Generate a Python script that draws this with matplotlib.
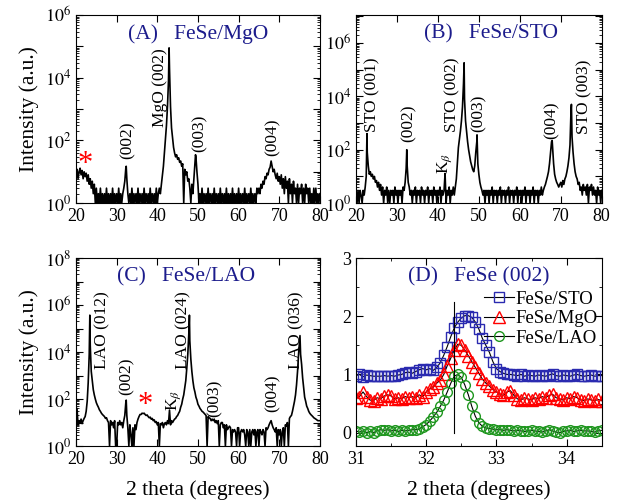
import numpy as np
import matplotlib
matplotlib.use("Agg")
import matplotlib.pyplot as plt
from matplotlib.ticker import LogLocator, FuncFormatter, MultipleLocator, NullFormatter
from matplotlib.lines import Line2D

plt.rcParams['font.family'] = ['Liberation Serif', 'DejaVu Serif']
plt.rcParams['mathtext.fontset'] = 'stix'

navy = '#1c1c8c'

# scan grid for panels A-C: 20..80 deg, 0.25 deg step
scan_x = np.arange(20.0, 80.01, 0.25)

# --- panel A: FeSe/MgO counts, one row per degree (x.00 .25 .50 .75) ---
a_counts = [8, 12, 6, 10,   13, 8, 11, 6,   10, 7, 9, 5,   8, 4, 6, 3,   5, 2, 4, 1,     # 20-24
            3, 1, 2, 1,   3, 1, 2, 1,   2, 1, 3, 1,   2, 1, 2, 1,   3, 1, 2, 1,          # 25-29
            2, 1, 3, 1,   2, 1, 2, 3,   5, 13, 6, 2,   1, 2, 1, 3,   1, 2, 1, 2,         # 30-34
            1, 3, 1, 2,   1, 2, 1, 3,   1, 2, 1, 2,   1, 3, 1, 2,   1, 2, 1, 3,          # 35-39
            1, 2, 3, 2,   4, 8, 15, 40,   110, 300, 1200, 8000,   20000, 1200, 250, 120,
            60, 40, 30, 35,                                                             # 40-44
            25, 28, 20, 22,   15, 18, 1, 12,   8, 10, 5, 6,   3, 1, 4, 2,   6, 20, 30, 10,  # 45-49
            4, 1, 2, 1,   3, 1, 2, 1,   2, 1, 3, 1,   2, 1, 2, 1,   3, 1, 2, 1,          # 50-54
            2, 1, 3, 1,   2, 1, 2, 1,   3, 1, 2, 1,   2, 1, 3, 1,   2, 1, 2, 1,          # 55-59
            3, 1, 2, 1,   2, 1, 3, 1,   2, 1, 2, 1,   3, 1, 2, 1,   2, 1, 3, 2,          # 60-64
            3, 2, 4, 3,   5, 4, 7, 6,   9, 8, 12, 14,   22, 15, 10, 12,   8, 6, 9, 5,    # 65-69
            7, 4, 8, 3,   6, 2, 7, 3,   5, 1, 6, 2,   4, 1, 5, 2,   3, 1, 4, 1,          # 70-74
            3, 2, 4, 1,   3, 1, 4, 2,   3, 1, 3, 1,   2, 1, 3, 1,   3, 1, 2, 1,          # 75-79
            2]
a_peak_x = [32.35, 42.9, 49.4]
a_peak_y = [15, 90000, 35]

# --- panel B: FeSe/STO ---
b_counts = [2, 1, 3, 1,   3, 2, 1, 3,   2, 4, 10, 80,   25, 12, 15, 10,   12, 8, 10, 6,   # 20-24
            7, 4, 6, 3,   5, 2, 4, 1,   3, 2, 4, 1,   3, 1, 3, 2,   3, 1, 4, 2,          # 25-29
            3, 1, 3, 2,   3, 1, 4, 3,   6, 20, 25, 6,   4, 2, 3, 1,   3, 2, 4, 1,        # 30-34
            3, 2, 3, 1,   4, 2, 3, 1,   3, 2, 4, 1,   3, 2, 3, 1,   4, 2, 3, 1,          # 35-39
            3, 2, 4, 1,   3, 2, 3, 13,   1, 3, 2, 4,   1, 3, 2, 4,   2, 4, 8, 30,        # 40-44
            120, 250, 500, 1200,   4000, 30000, 8000, 1200,   500, 200, 100, 60,
            35, 25, 18, 15,   25, 80, 200, 30,                                          # 45-49
            12, 6, 4, 3,   2, 3, 1, 3,   2, 3, 1, 3,   2, 4, 1, 3,   2, 3, 1, 3,         # 50-54
            2, 4, 1, 3,   2, 3, 1, 3,   2, 4, 1, 3,   2, 3, 1, 3,   2, 4, 1, 3,          # 55-59
            2, 3, 1, 3,   2, 4, 1, 3,   2, 3, 1, 3,   2, 4, 1, 3,   2, 3, 1, 3,          # 60-64
            2, 4, 2, 3,   4, 5, 7, 10,   15, 30, 80, 200,   120, 30, 12, 8,   6, 5, 4, 5, # 65-69
            6, 4, 7, 5,   8, 10, 15, 25,   50, 150, 3000, 300,   80, 30, 15, 10,
            8, 5, 6, 3,                                                                 # 70-74
            4, 2, 5, 3,   4, 2, 5, 1,   4, 3, 5, 2,   4, 2, 3, 1,   4, 2, 3, 1,          # 75-79
            3]
b_peak_x = [22.68, 32.4, 46.4, 49.55, 67.9, 72.6]
b_peak_y = [400, 100, 180000, 360, 220, 5000]

# --- panel C: FeSe/LAO ---
c_counts = [10, 40, 8, 12,   10, 14, 9, 12,   15, 18, 30, 80,   500, 8000, 20000, 1500,
            600, 250, 150, 100,                                                         # 20-24
            70, 55, 45, 35,   30, 25, 22, 20,   18, 15, 16, 12,   10, 1, 12, 8,   10, 6, 12, 1,  # 25-29
            1, 10, 8, 12,   8, 10, 6, 12,   20, 70, 20, 6,   1, 8, 3, 1,   6, 1, 8, 5,   # 30-34
            10, 14, 18, 22,   22, 25, 24, 25,   22, 20, 21, 18,   16, 17, 14, 15,
            12, 13, 10, 11,                                                             # 35-39
            8, 10, 1, 9,   8, 10, 6, 9,   10, 8, 12, 9,   34, 8, 12, 10,   12, 14, 15, 18,  # 40-44
            20, 25, 30, 45,   60, 100, 150, 300,   600, 2000, 8000, 60000,
            30000, 5000, 1500, 600,   300, 200, 120, 90,                                # 45-49
            60, 50, 40, 35,   30, 28, 25, 22,   20, 1, 18, 16,   15, 12, 14, 12,
            14, 10, 12, 9,                                                              # 50-54
            12, 1, 8, 10,   10, 6, 8, 1,   8, 5, 6, 7,   6, 1, 5, 4,   5, 4, 1, 6,       # 55-59
            6, 1, 4, 5,   4, 5, 3, 1,   5, 4, 1, 5,   1, 4, 5, 3,   5, 1, 4, 5,          # 60-64
            1, 5, 4, 3,   5, 4, 1, 6,   5, 6, 8, 10,   12, 8, 6, 5,   4, 6, 1, 5,        # 65-69
            3, 5, 1, 4,   6, 1, 8, 7,   10, 1, 15, 18,   20, 30, 50, 80,
            150, 400, 1500, 8000,                                                       # 70-74
            30000, 8000, 3000, 800,   300, 120, 80, 50,   40, 30, 25, 22,
            20, 18, 16, 15,   14, 13, 12, 12,                                           # 75-79
            12]
c_peak_x = [23.4, 32.35, 47.9, 75.1]
c_peak_y = [370000, 90, 370000, 50000]

# --- panel D: FeSe (002) zoom, offset intensities ---
d_x = [31.00, 31.05, 31.10, 31.15, 31.20, 31.25, 31.30, 31.35, 31.40, 31.45, 31.50, 31.55,
       31.60, 31.65, 31.70, 31.75, 31.80, 31.85, 31.90, 31.95, 32.00, 32.05, 32.10, 32.15,
       32.20, 32.25, 32.30, 32.35, 32.40, 32.45, 32.50, 32.55, 32.60, 32.65, 32.70, 32.75,
       32.80, 32.85, 32.90, 32.95, 33.00, 33.05, 33.10, 33.15, 33.20, 33.25, 33.30, 33.35,
       33.40, 33.45, 33.50, 33.55, 33.60, 33.65, 33.70, 33.75, 33.80, 33.85, 33.90, 33.95,
       34.00, 34.05, 34.10, 34.15, 34.20, 34.25, 34.30, 34.35, 34.40, 34.45, 34.50]
sto = [0.98, 1.00, 0.96, 0.99, 0.98, 0.97, 0.97, 0.97, 0.98, 0.97, 0.98, 0.97,
       0.99, 1.00, 1.03, 1.04, 1.02, 1.05, 1.08, 1.10, 1.08, 1.10, 1.07, 1.12,
       1.20, 1.33, 1.48, 1.65, 1.80, 1.90, 1.97, 2.01, 2.01, 1.98, 1.90, 1.78,
       1.62, 1.50, 1.38, 1.22, 1.10, 1.05, 1.02, 1.00, 1.00, 0.99, 0.98, 1.00,
       0.97, 0.99, 0.98, 0.97, 0.99, 0.98, 0.97, 0.99, 1.01, 0.98, 0.97, 0.99,
       0.98, 0.97, 0.99, 1.00, 0.98, 0.97, 0.98, 0.99, 0.97, 0.98, 0.98]
mgo = [0.60, 0.62, 0.70, 0.62, 0.56, 0.55, 0.60, 0.58, 0.63, 0.65, 0.63, 0.58,
       0.60, 0.58, 0.62, 0.60, 0.62, 0.60, 0.65, 0.62, 0.70, 0.75, 0.78, 0.85,
       0.90, 1.00, 1.15, 1.28, 1.42, 1.52, 1.50, 1.42, 1.32, 1.22, 1.12, 1.02,
       0.92, 0.85, 0.80, 0.74, 0.70, 0.66, 0.64, 0.70, 0.72, 0.64, 0.58, 0.56,
       0.60, 0.58, 0.56, 0.60, 0.58, 0.62, 0.60, 0.64, 0.66, 0.60, 0.58, 0.56,
       0.60, 0.58, 0.62, 0.60, 0.56, 0.55, 0.58, 0.56, 0.55, 0.57, 0.55]
lao = [0.03, 0.01, 0.03, 0.00, 0.02, 0.00, 0.03, 0.05, 0.04, 0.05, 0.03, 0.04,
       0.02, 0.04, 0.03, 0.04, 0.05, 0.05, 0.06, 0.10, 0.14, 0.20, 0.27, 0.35,
       0.45, 0.56, 0.70, 0.85, 0.97, 1.00, 0.95, 0.82, 0.65, 0.45, 0.28, 0.17,
       0.11, 0.08, 0.07, 0.06, 0.05, 0.05, 0.04, 0.05, 0.04, 0.03, 0.04, 0.03,
       0.02, 0.03, 0.04, 0.03, 0.02, 0.01, 0.03, 0.05, 0.03, 0.01, 0.00, 0.02,
       0.03, 0.04, 0.02, 0.03, 0.04, 0.03, 0.03, 0.02, 0.01, 0.03, 0.04]
line_pos = 32.4
d_labels = ['FeSe/STO', 'FeSe/MgO', 'FeSe/LAO']


def merged(counts, px, py):
    # put the extra peak-top points into the scan, sorted by angle
    x = np.concatenate([scan_x, px])
    y = np.concatenate([np.asarray(counts, float), py])
    o = np.argsort(x, kind='stable')
    return x[o], y[o]


def exp_fmt(v, pos):
    e = int(round(np.log10(v)))
    return r'$10^{%d}$' % e if e % 2 == 0 else ''


def style_log(ax, top):
    ax.set_yscale('log')
    ax.set_xlim(20, 80)
    ax.set_ylim(1, top)
    ax.xaxis.set_major_locator(MultipleLocator(10))
    ax.yaxis.set_major_locator(LogLocator(base=10, subs=(1.0,), numticks=20))
    ax.yaxis.set_minor_locator(LogLocator(base=10, subs=np.arange(2, 10), numticks=20))
    ax.yaxis.set_major_formatter(FuncFormatter(exp_fmt))
    ax.yaxis.set_minor_formatter(NullFormatter())


def common_ticks(ax):
    ax.tick_params(which='both', direction='in', top=True, right=True, labelsize=13)
    ax.tick_params(which='major', length=5, width=0.8)
    ax.tick_params(which='minor', length=2.5, width=0.6)


def peak_label(ax, x, y, s):
    ax.text(x, y, s, rotation=90, ha='center', va='center', fontsize=12.5)


def panel_title(ax, xf, s):
    ax.text(xf, 0.9, s, transform=ax.transAxes, ha='center', va='center',
            fontsize=15.5, color=navy)


fig = plt.figure(figsize=(6.19, 5.04), dpi=100)
axA = fig.add_axes([0.1228, 0.597, 0.394, 0.373])
axB = fig.add_axes([0.5751, 0.597, 0.397, 0.373])
axC = fig.add_axes([0.1228, 0.115, 0.394, 0.373])
axD = fig.add_axes([0.5751, 0.115, 0.397, 0.373])

# (A)
x, y = merged(a_counts, a_peak_x, a_peak_y)
axA.plot(x, y, color='black', lw=1.2)
style_log(axA, 1e6)
common_ticks(axA)
panel_title(axA, 0.5, '(A)   FeSe/MgO')
axA.text(22.3, 17, '*', color='red', fontsize=22, ha='center', va='center')
peak_label(axA, 32.6, 1e2, '(002)')
peak_label(axA, 40.6, 10**3.67, 'MgO (002)')
peak_label(axA, 50.5, 10**2.23, '(003)')
peak_label(axA, 68.3, 10**2.1, '(004)')
axA.set_ylabel('Intensity (a.u.)', fontsize=15.5)

# (B)
x, y = merged(b_counts, b_peak_x, b_peak_y)
axB.plot(x, y, color='black', lw=1.2)
style_log(axB, 1.1e7)
common_ticks(axB)
panel_title(axB, 0.55, '(B)   FeSe/STO')
peak_label(axB, 24.1, 10**4.05, 'STO (001)')
peak_label(axB, 32.9, 10**3.0, '(002)')
peak_label(axB, 41.6, 10**1.5, r'K$_{\beta}$')
peak_label(axB, 43.5, 10**4.05, 'STO (002)')
peak_label(axB, 49.9, 10**3.37, '(003)')
peak_label(axB, 67.8, 10**3.1, '(004)')
peak_label(axB, 75.8, 10**4.0, 'STO (003)')

# (C)
x, y = merged(c_counts, c_peak_x, c_peak_y)
axC.plot(x, y, color='black', lw=1.2)
style_log(axC, 1e8)
common_ticks(axC)
panel_title(axC, 0.45, '(C)   FeSe/LAO')
axC.text(36.9, 10**1.72, '*', color='red', fontsize=22, ha='center', va='center')
peak_label(axC, 26.4, 10**4.94, 'LAO (012)')
peak_label(axC, 32.4, 10**2.98, '(002)')
peak_label(axC, 44.1, 10**1.96, r'K$_{\beta}$')
peak_label(axC, 46.3, 10**4.94, 'LAO (024)')
peak_label(axC, 54.0, 10**2.04, '(003)')
peak_label(axC, 68.4, 10**2.26, '(004)')
peak_label(axC, 74.3, 10**4.94, 'LAO (036)')
axC.set_ylabel('Intensity (a.u.)', fontsize=15.5)
axC.set_xlabel('2 theta (degrees)', fontsize=15.5, labelpad=9)

# (D)
d_styles = [('s', 7, '#2a2ab0'), ('^', 8, 'red'), ('o', 7, '#1e961e')]
handles = []
for yy, (mk, ms, col) in zip([sto, mgo, lao], d_styles):
    axD.plot(d_x, yy, color='black', lw=0.8, marker=mk, ms=ms, mfc='none', mec=col, mew=1)
    handles.append(Line2D([], [], color='black', lw=0.8, marker=mk, ms=ms, mfc='none',
                          mec=col, mew=1))
axD.plot([line_pos, line_pos], [0, 2.25], color='black', lw=0.8)
axD.set_xlim(31, 34.5)
axD.set_ylim(-0.23, 3.0)
axD.xaxis.set_major_locator(MultipleLocator(1))
axD.xaxis.set_minor_locator(MultipleLocator(0.5))
axD.yaxis.set_major_locator(MultipleLocator(1))
axD.yaxis.set_minor_locator(MultipleLocator(0.5))
common_ticks(axD)
panel_title(axD, 0.5, '(D)   FeSe (002)')
axD.legend(handles, d_labels, loc='upper right', bbox_to_anchor=(1.03, 0.885),
           frameon=False, fontsize=13.5, handlelength=1.6, handletextpad=0.1,
           labelspacing=0.12, borderaxespad=0.2)
axD.set_xlabel('2 theta (degrees)', fontsize=15.5, labelpad=9)

fig.savefig('out.png', dpi=100)
